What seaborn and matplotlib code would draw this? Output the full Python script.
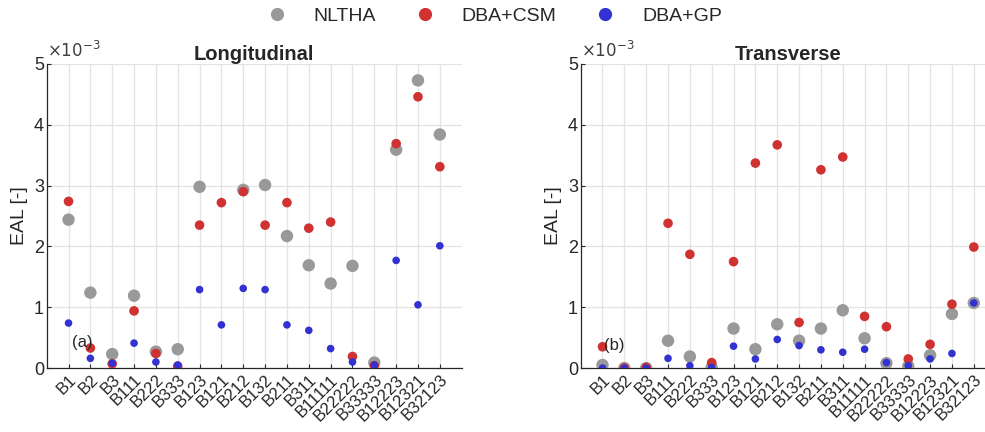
import numpy as np
import pandas as pd
import matplotlib
matplotlib.use("Agg")
import matplotlib.pyplot as plt
from matplotlib.lines import Line2D
import seaborn as sns

categories = ["B1", "B2", "B3", "B111", "B222", "B333", "B123", "B121", "B212",
              "B132", "B211", "B311", "B11111", "B22222", "B33333", "B12223",
              "B12321", "B32123"]
methods = ["NLTHA", "DBA+CSM", "DBA+GP"]

long_nltha = [2.44, 1.24, 0.23, 1.19, 0.27, 0.31, 2.98, np.nan, 2.93, 3.01,
              2.17, 1.69, 1.39, 1.68, 0.09, 3.59, 4.73, 3.84]
long_csm = [2.74, 0.33, 0.07, 0.94, 0.24, 0.03, 2.35, 2.72, 2.90, 2.35,
            2.72, 2.30, 2.40, 0.19, 0.04, 3.69, 4.46, 3.31]
long_gp = [0.74, 0.16, 0.08, 0.41, 0.10, 0.05, 1.29, 0.71, 1.31, 1.29,
           0.71, 0.62, 0.32, 0.10, 0.05, 1.77, 1.04, 2.01]

tran_nltha = [0.05, 0.0, 0.0, 0.45, 0.19, 0.01, 0.65, 0.31, 0.72, 0.45,
              0.65, 0.95, 0.49, 0.08, 0.03, 0.21, 0.89, 1.07]
tran_csm = [0.35, 0.0, 0.01, 2.38, 1.87, 0.09, 1.75, 3.37, 3.67, 0.75,
            3.26, 3.47, 0.85, 0.68, 0.15, 0.39, 1.05, 1.99]
tran_gp = [0.0, 0.0, 0.0, 0.16, 0.04, 0.01, 0.36, 0.15, 0.47, 0.37,
           0.30, 0.26, 0.31, 0.09, 0.04, 0.15, 0.24, 1.07]

titles = ["Longitudinal", "Transverse"]
panel_tags = ["(a)", "(b)"]

colors = {"NLTHA": "#999999", "DBA+CSM": "#d03232", "DBA+GP": "#3232d2"}
sizes = {"NLTHA": 80, "DBA+CSM": 48, "DBA+GP": 30}


def build(vals):
    frames = []
    for m, v in zip(methods, vals):
        frames.append(pd.DataFrame({"cat": categories, "EAL": v, "method": m}))
    return pd.concat(frames, ignore_index=True)


data = [build([long_nltha, long_csm, long_gp]),
        build([tran_nltha, tran_csm, tran_gp])]

sns.set_style("ticks")
plt.rcParams['font.family'] = ['Liberation Sans', 'DejaVu Sans']

fig = plt.figure(figsize=(9.85, 4.32), dpi=100)
ax_pos = [[0.0474, 0.148, 0.4213, 0.704], [0.5895, 0.148, 0.4213, 0.704]]
tag_pos = [(0.15, 0.42), (0.05, 0.37)]

for i in range(2):
    ax = fig.add_axes(ax_pos[i])
    sns.scatterplot(data=data[i], x="cat", y="EAL", hue="method", size="method",
                    palette=colors, sizes=sizes, hue_order=methods,
                    size_order=methods, linewidth=0, alpha=1, ax=ax,
                    legend=False, zorder=3)
    ax.set_xlim(-1, 18)
    ax.set_ylim(0, 5)
    ax.set_yticks([0, 1, 2, 3, 4, 5])
    ax.set_yticklabels(["0", "1", "2", "3", "4", "5"])
    ax.set_xticks(range(len(categories)))
    ax.set_xticklabels(categories, rotation=45, ha="right",
                       rotation_mode="anchor", fontsize=12)
    ax.tick_params(axis="y", labelsize=13, direction="in", length=3,
                   colors="#262626", pad=2)
    ax.tick_params(axis="x", direction="in", length=3, colors="#262626", pad=3)
    ax.grid(True, color="#e3e3e3", linewidth=0.9, zorder=0)
    ax.set_axisbelow(True)
    for s in ["top", "right"]:
        ax.spines[s].set_visible(False)
    for s in ["left", "bottom"]:
        ax.spines[s].set_color("#262626")
        ax.spines[s].set_linewidth(0.9)
    ax.set_xlabel("")
    ax.set_ylabel("EAL [-]", fontsize=14, color="#262626", labelpad=4)
    ax.set_title(titles[i], fontsize=14.5, fontweight="bold", pad=3)
    ax.text(0.0, 1.012, r"$\times10^{-3}$", transform=ax.transAxes,
            fontsize=12, color="#404040", ha="left", va="bottom")
    ax.text(tag_pos[i][0], tag_pos[i][1], panel_tags[i], fontsize=12,
            transform=ax.transData, ha="left", va="center")

handles = [Line2D([], [], linestyle="none", marker="o", markersize=9.5,
                  markerfacecolor=colors[m], markeredgewidth=0) for m in methods]
fig.legend(handles, methods, loc="center", bbox_to_anchor=(0.497, 0.963),
           ncol=3, frameon=False, fontsize=14, handletextpad=0.9,
           columnspacing=1.5)

fig.savefig("out.png", dpi=100)
